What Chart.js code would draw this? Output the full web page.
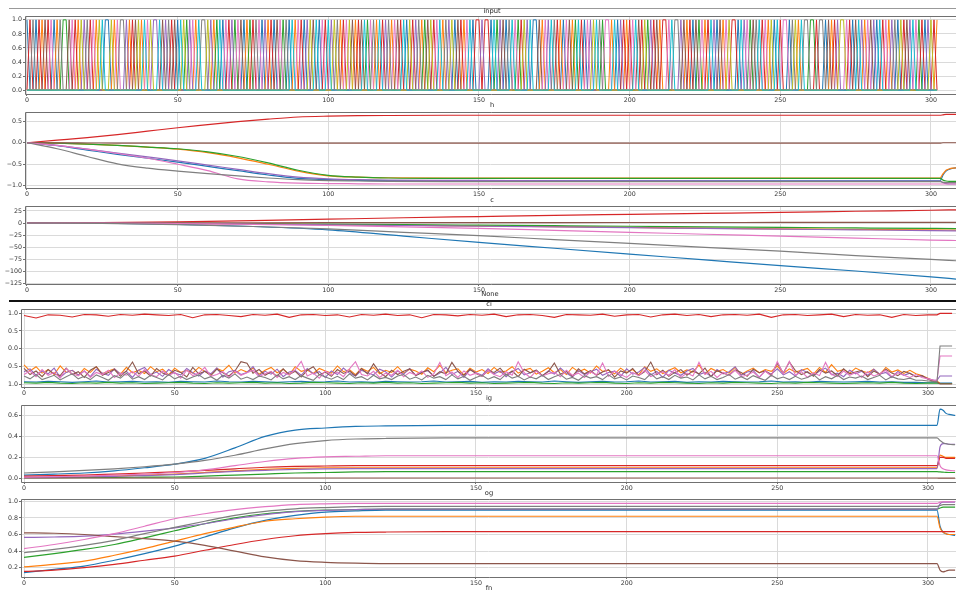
<!DOCTYPE html>
<html><head><meta charset="utf-8">
<script src="https://cdn.jsdelivr.net/npm/chart.js@4"></script>
<style>
html,body{margin:0;padding:0;background:#fff;width:956px;height:592px;overflow:hidden;position:relative;font-family:"DejaVu Sans",sans-serif}
canvas{position:absolute;left:0}
.rule{position:absolute;left:9px;right:0}
</style></head><body>
<div class="rule" style="top:8px;height:1px;background:#999"></div>
<div class="rule" style="top:300px;height:2px;background:#111"></div>
<script>
// ---------- tick labels ----------
const xTicks = [0, 50, 100, 150, 200, 250, 300];
const inputYTicks = [0, 0.2, 0.4, 0.6, 0.8, 1.0];
const hYTicks = [0.5, 0, -0.5, -1.0];
const cYTicks = [25, 0, -25, -50, -75, -100, -125];
const ciYTicks = [1.0, 0.5, 0, -0.5, -1.0];
const igYTicks = [0, 0.2, 0.4, 0.6];
const ogYTicks = [0.2, 0.4, 0.6, 0.8, 1.0];

// ---------- input: active symbol index at each step (0..302) ----------
const inputSeq = [
0,3,7,0,3,1,5,3,6,0,1,7,2,2,5,6,3,1,8,4,
7,3,6,1,8,9,0,0,8,1,6,7,7,4,1,3,5,8,1,9,
6,8,4,4,9,5,4,7,3,5,0,9,8,2,4,6,1,9,7,7,
8,4,1,2,9,0,6,3,4,2,6,5,0,1,2,3,7,6,0,4,
1,3,0,5,6,2,7,0,9,1,6,3,0,4,8,5,9,0,6,3,
9,4,8,7,1,3,6,8,5,1,3,5,9,2,6,7,1,9,3,4,
7,1,6,5,3,9,0,8,3,4,7,1,2,5,8,3,6,9,1,7,
4,8,0,5,3,1,6,9,0,3,3,4,3,3,0,9,2,4,5,0,
7,9,6,2,3,8,4,9,0,0,5,1,6,4,9,7,3,1,0,6,
5,1,2,9,3,0,6,4,8,9,7,2,6,6,1,9,0,4,3,1,
3,6,9,5,3,8,2,4,3,5,1,3,3,6,9,7,7,4,5,1,
3,0,5,2,6,1,3,9,4,0,5,1,6,8,3,3,0,9,4,6,
2,5,7,9,3,6,1,8,0,9,3,6,6,0,7,8,1,9,7,7,
2,2,3,7,7,0,5,1,3,4,8,8,6,3,0,5,9,4,1,6,
5,4,0,9,3,6,1,4,7,0,8,3,5,4,9,6,2,3,0,4,
8,3,1];
const inputCategories = [0,1,2,3,4,5,6,7,8,9];

// ---------- h ----------
const hX = [0,10,20,30,40,50,60,70,80,90,100,110,120,140,160,200,250,300,303,304,305,306,307,309];
const h_blue   = [0,-.07,-.17,-.27,-.36,-.45,-.55,-.65,-.75,-.83,-.86,-.875,-.88,-.885,-.885,-.885,-.885,-.885,-.885,-.75,-.66,-.62,-.6,-.58];
const h_orange = [0,-.01,-.03,-.06,-.1,-.15,-.23,-.35,-.5,-.66,-.77,-.8,-.815,-.82,-.82,-.82,-.82,-.82,-.82,-.72,-.64,-.61,-.59,-.58];
const h_green  = [0,-.01,-.03,-.06,-.1,-.14,-.21,-.32,-.47,-.64,-.76,-.8,-.82,-.83,-.83,-.83,-.83,-.83,-.83,-.87,-.89,-.9,-.9,-.9];
const h_red    = [0,.06,.12,.19,.27,.35,.42,.49,.55,.6,.62,.63,.635,.64,.64,.64,.64,.64,.64,.65,.66,.66,.66,.66];
const h_purple = [0,-.06,-.15,-.24,-.33,-.42,-.52,-.62,-.72,-.8,-.84,-.86,-.87,-.875,-.88,-.885,-.89,-.89,-.89,-.93,-.95,-.96,-.96,-.96];
const h_brown  = [0,-.003,-.005,-.007,-.008,-.01,-.01,-.01,-.01,-.01,-.01,-.01,-.01,-.01,-.01,-.01,-.01,-.01,-.01,0,0,0,0,0];
const h_pink   = [0,-.06,-.15,-.25,-.36,-.5,-.65,-.84,-.91,-.94,-.95,-.955,-.96,-.96,-.96,-.96,-.96,-.96,-.96,-.96,-.96,-.96,-.96,-.96];
const h_gray   = [0,-.14,-.32,-.49,-.59,-.66,-.72,-.77,-.82,-.86,-.88,-.89,-.9,-.905,-.905,-.905,-.905,-.905,-.905,-.92,-.93,-.93,-.93,-.93];

// ---------- c ----------
const cX = [0,25,50,75,100,125,150,175,200,225,250,275,300,309];
const c_blue   = [0,-0.3,-2.5,-7,-14,-27,-40,-52,-64,-76,-88,-99,-111,-116];
const c_orange = [0,0,-0.5,-1.5,-3,-4.5,-6,-7.5,-9,-10.5,-12,-13,-14,-14.5];
const c_green  = [0,0,-0.5,-1.2,-2.2,-3.2,-4.3,-5.4,-6.5,-7.8,-9,-10,-11,-11.3];
const c_red    = [0,0.8,2.5,5,8,11,13.5,16,18,20,22,24.5,26.5,27.5];
const c_purple = [0,0,-0.7,-2,-3.5,-5,-6.5,-8,-9.5,-11,-12.5,-14,-15.5,-16];
const c_brown  = [0,0.2,0.4,0.6,0.8,1,1,1.1,1.2,1.2,1.3,1.3,1.4,1.4];
const c_pink   = [0,0,-1,-2.5,-5,-8,-11,-15,-19,-23,-27,-31,-35,-36];
const c_gray   = [0,-0.5,-3,-7,-12,-19,-26,-34,-42,-50,-58,-67,-75,-78];

// ---------- ci (busy series every 2nd step, calm ones every 4th step) ----------
const ciTailX = [303,304,306,308];
const ci_orange = [
-0.45,-0.62,-0.5,-0.68,-0.58,-0.72,-0.48,-0.66,-0.6,-0.74,
-0.55,-0.66,-0.5,-0.7,-0.62,-0.56,-0.71,-0.52,-0.67,-0.6,
-0.69,-0.5,-0.64,-0.57,-0.73,-0.54,-0.66,-0.6,-0.68,-0.52,
-0.63,-0.72,-0.55,-0.62,-0.46,-0.68,-0.58,-0.65,-0.54,-0.71,
-0.6,-0.52,-0.67,-0.57,-0.73,-0.5,-0.63,-0.59,-0.69,-0.55,
-0.62,-0.68,-0.48,-0.64,-0.58,-0.72,-0.55,-0.63,-0.52,-0.7,
-0.6,-0.66,-0.5,-0.68,-0.57,-0.62,-0.71,-0.53,-0.64,-0.46,
-0.67,-0.6,-0.56,-0.73,-0.54,-0.65,-0.58,-0.69,-0.52,-0.66,
-0.62,-0.5,-0.68,-0.59,-0.55,-0.71,-0.63,-0.53,-0.67,-0.58,
-0.72,-0.52,-0.64,-0.57,-0.68,-0.48,-0.63,-0.6,-0.7,-0.54,
-0.66,-0.58,-0.73,-0.5,-0.63,-0.56,-0.69,-0.6,-0.53,-0.67,
-0.59,-0.65,-0.45,-0.7,-0.55,-0.63,-0.58,-0.68,-0.52,-0.72,
-0.62,-0.54,-0.67,-0.58,-0.63,-0.48,-0.69,-0.56,-0.65,-0.6,
-0.55,-0.71,-0.52,-0.66,-0.44,-0.63,-0.58,-0.68,-0.54,-0.62,
-0.67,-0.57,-0.72,-0.52,-0.65,-0.59,-0.69,-0.6,-0.7,-0.75,
-0.82,-0.9];
const ci_orange_tail = [-0.9,-0.97,-0.97,-0.97];
const ci_brown = [
-0.55,-0.72,-0.62,-0.78,-0.58,-0.7,-0.75,-0.54,-0.72,-0.64,
-0.8,-0.6,-0.5,-0.74,-0.66,-0.58,-0.77,-0.62,-0.37,-0.7,
-0.62,-0.76,-0.55,-0.68,-0.74,-0.6,-0.66,-0.79,-0.52,-0.7,
-0.63,-0.75,-0.57,-0.67,-0.76,-0.62,-0.36,-0.4,-0.68,-0.58,
-0.74,-0.64,-0.77,-0.56,-0.72,-0.63,-0.79,-0.6,-0.5,-0.73,
-0.65,-0.77,-0.58,-0.69,-0.62,-0.75,-0.55,-0.7,-0.42,-0.66,
-0.78,-0.6,-0.72,-0.63,-0.56,-0.75,-0.67,-0.59,-0.77,-0.64,
-0.7,-0.38,-0.63,-0.74,-0.58,-0.69,-0.77,-0.61,-0.66,-0.54,
-0.73,-0.62,-0.78,-0.57,-0.67,-0.6,-0.75,-0.64,-0.4,-0.71,
-0.63,-0.77,-0.56,-0.7,-0.61,-0.74,-0.65,-0.58,-0.79,-0.62,
-0.68,-0.55,-0.75,-0.64,-0.37,-0.72,-0.6,-0.77,-0.66,-0.58,
-0.74,-0.62,-0.7,-0.54,-0.78,-0.61,-0.68,-0.73,-0.59,-0.66,
-0.77,-0.57,-0.67,-0.62,-0.74,-0.4,-0.68,-0.37,-0.61,-0.72,
-0.64,-0.77,-0.58,-0.68,-0.62,-0.75,-0.56,-0.7,-0.65,-0.6,
-0.78,-0.62,-0.71,-0.57,-0.68,-0.75,-0.63,-0.69,-0.78,-0.75,
-0.85,-0.92];
const ci_brown_tail = [-0.92,-0.98,-0.98,-0.98];
const ci_purple = [
-0.64,-0.56,-0.74,-0.62,-0.7,-0.54,-0.8,-0.66,-0.6,-0.73,
-0.62,-0.78,-0.57,-0.68,-0.74,-0.56,-0.71,-0.63,-0.8,-0.6,
-0.52,-0.72,-0.65,-0.77,-0.58,-0.68,-0.73,-0.55,-0.67,-0.76,
-0.62,-0.7,-0.53,-0.79,-0.64,-0.6,-0.72,-0.66,-0.5,-0.75,
-0.63,-0.71,-0.57,-0.78,-0.65,-0.61,-0.74,-0.55,-0.7,-0.64,
-0.8,-0.62,-0.72,-0.54,-0.68,-0.76,-0.6,-0.67,-0.73,-0.57,
-0.64,-0.79,-0.62,-0.71,-0.55,-0.74,-0.65,-0.61,-0.77,-0.68,
-0.52,-0.72,-0.63,-0.8,-0.58,-0.67,-0.74,-0.56,-0.7,-0.62,
-0.78,-0.64,-0.55,-0.73,-0.67,-0.6,-0.76,-0.62,-0.71,-0.54,
-0.68,-0.79,-0.61,-0.72,-0.64,-0.57,-0.74,-0.66,-0.62,-0.77,
-0.56,-0.71,-0.65,-0.52,-0.73,-0.63,-0.8,-0.6,-0.68,-0.74,
-0.62,-0.55,-0.72,-0.66,-0.77,-0.58,-0.7,-0.64,-0.5,-0.74,
-0.65,-0.61,-0.79,-0.62,-0.71,-0.56,-0.73,-0.64,-0.76,-0.58,
-0.66,-0.74,-0.62,-0.54,-0.72,-0.68,-0.78,-0.6,-0.7,-0.63,
-0.74,-0.57,-0.71,-0.66,-0.8,-0.63,-0.74,-0.68,-0.78,-0.76,
-0.84,-0.88];
const ci_purple_tail = [-0.88,-0.76,-0.76,-0.76];
const ci_pink = [
-0.72,-0.62,-0.78,-0.58,-0.74,-0.66,-0.82,-0.55,-0.7,-0.76,
-0.62,-0.8,-0.66,-0.72,-0.6,-0.8,-0.68,-0.74,-0.64,-0.77,
-0.58,-0.72,-0.78,-0.62,-0.74,-0.66,-0.82,-0.6,-0.75,-0.68,
-0.52,-0.77,-0.72,-0.64,-0.8,-0.62,-0.74,-0.67,-0.6,-0.78,
-0.7,-0.63,-0.8,-0.66,-0.73,-0.58,-0.35,-0.76,-0.68,-0.82,
-0.62,-0.73,-0.65,-0.78,-0.56,-0.36,-0.72,-0.76,-0.63,-0.8,
-0.68,-0.74,-0.6,-0.78,-0.66,-0.73,-0.62,-0.8,-0.7,-0.38,
-0.75,-0.65,-0.8,-0.62,-0.74,-0.68,-0.77,-0.6,-0.72,-0.78,
-0.64,-0.74,-0.36,-0.67,-0.8,-0.62,-0.76,-0.7,-0.66,-0.78,
-0.6,-0.74,-0.68,-0.8,-0.64,-0.73,-0.4,-0.77,-0.62,-0.72,
-0.8,-0.66,-0.75,-0.6,-0.78,-0.7,-0.64,-0.74,-0.58,-0.8,
-0.68,-0.76,-0.38,-0.72,-0.63,-0.8,-0.66,-0.74,-0.6,-0.78,
-0.73,-0.65,-0.8,-0.62,-0.76,-0.36,-0.7,-0.35,-0.74,-0.64,
-0.8,-0.67,-0.75,-0.38,-0.72,-0.78,-0.62,-0.74,-0.66,-0.8,
-0.64,-0.76,-0.7,-0.6,-0.78,-0.67,-0.74,-0.8,-0.72,-0.8,
-0.84,-0.88];
const ci_pink_tail = [-0.88,-0.2,-0.2,-0.2];
const ci_gray = [
-0.76,-0.84,-0.72,-0.86,-0.8,-0.74,-0.87,-0.78,-0.7,-0.84,
-0.77,-0.86,-0.73,-0.8,-0.88,-0.75,-0.82,-0.68,-0.85,-0.78,
-0.86,-0.74,-0.8,-0.87,-0.72,-0.84,-0.77,-0.86,-0.79,-0.73,
-0.84,-0.78,-0.88,-0.74,-0.82,-0.7,-0.85,-0.79,-0.86,-0.76,
-0.8,-0.87,-0.73,-0.84,-0.78,-0.86,-0.75,-0.82,-0.88,-0.72,
-0.79,-0.85,-0.77,-0.86,-0.7,-0.82,-0.78,-0.87,-0.74,-0.84,
-0.8,-0.86,-0.76,-0.72,-0.85,-0.79,-0.87,-0.74,-0.82,-0.78,
-0.86,-0.73,-0.84,-0.77,-0.88,-0.8,-0.74,-0.85,-0.78,-0.86,
-0.71,-0.82,-0.77,-0.87,-0.79,-0.84,-0.74,-0.86,-0.78,-0.72,
-0.85,-0.8,-0.88,-0.75,-0.82,-0.78,-0.86,-0.73,-0.84,-0.79,
-0.87,-0.76,-0.8,-0.86,-0.7,-0.84,-0.78,-0.86,-0.74,-0.82,
-0.79,-0.87,-0.73,-0.84,-0.77,-0.86,-0.8,-0.72,-0.85,-0.78,
-0.86,-0.75,-0.82,-0.88,-0.74,-0.84,-0.79,-0.86,-0.77,-0.85,
-0.8,-0.72,-0.87,-0.78,-0.84,-0.74,-0.86,-0.79,-0.82,-0.76,
-0.86,-0.8,-0.74,-0.87,-0.78,-0.84,-0.86,-0.82,-0.88,-0.88,
-0.9,-0.92];
const ci_gray_tail = [-0.92,0.08,0.08,0.08];
const ci_red = [
0.93,0.86,0.95,0.94,0.89,0.96,0.95,0.91,0.96,0.94,
0.97,0.95,0.93,0.96,0.87,0.95,0.96,0.93,0.9,0.96,
0.94,0.97,0.88,0.95,0.96,0.93,0.95,0.89,0.96,0.94,
0.97,0.93,0.95,0.87,0.96,0.95,0.92,0.96,0.94,0.97,
0.9,0.95,0.96,0.93,0.88,0.96,0.95,0.94,0.97,0.91,
0.95,0.96,0.89,0.95,0.97,0.93,0.96,0.9,0.95,0.96,
0.94,0.97,0.88,0.95,0.96,0.93,0.95,0.97,0.9,0.96,
0.94,0.95,0.88,0.96,0.93,0.95];
const ci_red_tail = [0.95,0.99,0.99,0.99];
const ci_green = [
-0.95,-0.96,-0.94,-0.96,-0.97,-0.95,-0.96,-0.94,-0.96,-0.95,
-0.97,-0.96,-0.95,-0.94,-0.96,-0.97,-0.95,-0.96,-0.95,-0.94,
-0.96,-0.95,-0.97,-0.96,-0.94,-0.95,-0.96,-0.97,-0.95,-0.96,
-0.94,-0.96,-0.95,-0.97,-0.96,-0.95,-0.94,-0.96,-0.95,-0.97,
-0.96,-0.95,-0.94,-0.96,-0.97,-0.95,-0.96,-0.95,-0.94,-0.96,
-0.97,-0.95,-0.96,-0.94,-0.95,-0.96,-0.97,-0.95,-0.96,-0.94,
-0.95,-0.96,-0.97,-0.95,-0.96,-0.94,-0.95,-0.96,-0.97,-0.96,
-0.95,-0.96,-0.94,-0.96,-0.97,-0.96];
const ci_green_tail = [-0.96,-0.97,-0.97,-0.97];
const ci_blue = [
-0.92,-0.93,-0.91,-0.92,-0.94,-0.92,-0.9,-0.93,-0.92,-0.91,
-0.93,-0.92,-0.94,-0.91,-0.92,-0.93,-0.9,-0.92,-0.93,-0.91,
-0.92,-0.94,-0.92,-0.91,-0.93,-0.92,-0.9,-0.93,-0.92,-0.94,
-0.91,-0.92,-0.93,-0.92,-0.9,-0.93,-0.92,-0.91,-0.94,-0.92,
-0.93,-0.91,-0.92,-0.93,-0.9,-0.92,-0.94,-0.92,-0.91,-0.93,
-0.92,-0.9,-0.93,-0.92,-0.91,-0.94,-0.92,-0.93,-0.91,-0.92,
-0.93,-0.92,-0.9,-0.93,-0.92,-0.94,-0.91,-0.92,-0.93,-0.92,
-0.91,-0.93,-0.92,-0.94,-0.94,-0.95];
const ci_blue_tail = [-0.95,-0.96,-0.96,-0.96];

// ---------- ig ----------
const gX = [0,10,20,30,40,50,60,70,80,90,100,110,120,140,160,200,250,300,303,304,305,306,307,309];
const ig_blue   = [.03,.04,.05,.07,.1,.135,.19,.29,.4,.46,.48,.495,.5,.505,.505,.505,.505,.505,.505,.66,.65,.62,.61,.6];
const ig_orange = [.01,.012,.015,.02,.03,.04,.055,.07,.085,.095,.1,.1,.1,.1,.1,.1,.1,.1,.1,.22,.21,.2,.2,.2];
const ig_green  = [.005,.006,.007,.008,.01,.012,.02,.03,.04,.05,.055,.06,.063,.063,.063,.063,.063,.063,.063,.06,.058,.056,.055,.055];
const ig_red    = [.02,.025,.03,.04,.05,.06,.075,.09,.105,.113,.117,.12,.12,.12,.12,.12,.12,.12,.12,.2,.2,.19,.19,.19];
const ig_purple = [.005,.008,.012,.018,.025,.035,.05,.065,.075,.085,.09,.092,.092,.092,.092,.092,.092,.092,.092,.3,.33,.33,.325,.325];
const ig_brown  = [.002,.002,.002,.002,.002,.002,.002,.002,.002,.002,.002,.002,.002,.002,.002,.002,.002,.002,.002,.001,.001,.001,.001,.001];
const ig_pink   = [.01,.015,.02,.03,.04,.055,.08,.12,.16,.19,.205,.21,.215,.215,.215,.215,.215,.215,.215,.12,.09,.08,.075,.07];
const ig_gray   = [.05,.06,.075,.09,.11,.135,.17,.22,.28,.33,.36,.375,.38,.385,.385,.385,.385,.385,.385,.36,.34,.33,.325,.32];

// ---------- og ----------
const og_blue   = [.14,.18,.22,.29,.37,.46,.57,.68,.77,.83,.87,.885,.895,.895,.895,.895,.895,.895,.895,.7,.63,.61,.6,.59];
const og_orange = [.21,.24,.28,.35,.43,.52,.61,.69,.76,.79,.81,.82,.82,.82,.82,.82,.82,.82,.82,.68,.63,.61,.6,.6];
const og_green  = [.325,.37,.42,.48,.56,.645,.73,.8,.85,.88,.895,.9,.905,.905,.905,.905,.905,.905,.905,.92,.93,.93,.93,.93];
const og_red    = [.155,.17,.2,.24,.29,.34,.41,.48,.54,.585,.61,.625,.63,.635,.635,.635,.635,.635,.635,.635,.635,.635,.635,.635];
const og_purple = [.565,.57,.58,.605,.64,.68,.73,.79,.84,.875,.89,.9,.905,.905,.905,.905,.905,.905,.905,.97,.99,.99,.99,.99];
const og_brown  = [.62,.615,.6,.575,.55,.52,.47,.4,.33,.285,.265,.255,.25,.25,.25,.25,.25,.25,.25,.17,.15,.16,.17,.17];
const og_pink   = [.43,.48,.54,.61,.7,.79,.85,.9,.935,.96,.97,.975,.975,.975,.975,.975,.975,.975,.975,.99,.995,.995,.995,.995];
const og_gray   = [.38,.42,.47,.53,.61,.685,.76,.83,.88,.91,.925,.935,.94,.94,.94,.94,.94,.94,.94,.95,.96,.96,.96,.96];

// ---------- rendering ----------
const TAB10 = ['#1f77b4','#ff7f0e','#2ca02c','#d62728','#9467bd','#8c564b','#e377c2','#7f7f7f','#bcbd22','#17becf'];
const FONT = '"DejaVu Sans", sans-serif';
Chart.defaults.font.family = FONT;

function pts(xs, ys){ return ys.map((y,i)=>({x:xs[i], y})); }
function range(a,b,s){ const r=[]; for(let v=a; v<=b; v+=s) r.push(v); return r; }
function fmtDec(v){ const s=Math.abs(v).toFixed(1); return v<0 ? '\u2212'+s : s; }
function fmtInt(v){ return v<0 ? '\u2212'+Math.abs(v) : String(v); }
function fmtAbs(v){ return Math.abs(v).toFixed(1); }

function panel(box, xr, yr, yTicks, yFmt, datasets, titles){
  const xH = 13;
  let cTop = box.top - 4, cBot = box.bottom + xH;
  titles.forEach(t=>{ cTop = Math.min(cTop, Math.floor(t.y - 7)); cBot = Math.max(cBot, Math.ceil(t.y + 7)); });
  const padTop = box.top - cTop, padBottom = cBot - (box.bottom + xH);
  const cv = document.createElement('canvas');
  cv.width = 956; cv.height = cBot - cTop;
  cv.style.top = cTop + 'px';
  document.body.appendChild(cv);
  datasets.forEach((d,i)=>{ d.order = datasets.length - i; });
  const deco = {id:'deco',
    afterDatasetsDraw(c){
      const {ctx, chartArea:a} = c;
      const l = Math.round(a.left)+0.5, t = Math.round(a.top)+0.5, b = Math.round(a.bottom)+0.5;
      ctx.save(); ctx.strokeStyle='#707070'; ctx.lineWidth=1;
      ctx.beginPath(); ctx.moveTo(960,t); ctx.lineTo(l,t); ctx.lineTo(l,b); ctx.lineTo(960,b); ctx.stroke();
      ctx.restore();
    },
    afterDraw(c){
      const ctx = c.ctx;
      ctx.save(); ctx.fillStyle='#262626'; ctx.font='6.7px '+FONT; ctx.textAlign='center'; ctx.textBaseline='middle';
      titles.forEach(t=>ctx.fillText(t.text, t.x, t.y - cTop));
      ctx.restore();
    }};
  new Chart(cv, {type:'line', data:{datasets}, options:{
    responsive:false, animation:false, events:[],
    layout:{padding:{top:padTop,left:0,right:0,bottom:padBottom}},
    plugins:{legend:{display:false}, tooltip:{enabled:false}, title:{display:false}},
    scales:{
      x:{type:'linear', min:xr[0], max:xr[1],
        afterFit:s=>{s.height=xH;},
        afterBuildTicks:s=>{s.ticks = xTicks.map(v=>({value:v}));},
        grid:{color:'#dadada', lineWidth:1, tickLength:2, tickColor:'#707070'},
        border:{display:false},
        ticks:{font:{size:6.3}, color:'#333', padding:1, maxRotation:0, autoSkip:false, callback:v=>String(v)}},
      y:{type:'linear', min:yr[0], max:yr[1],
        afterFit:s=>{s.width=box.left;},
        afterBuildTicks:s=>{s.ticks = yTicks.map(v=>({value:v}));},
        grid:{color:'#dadada', lineWidth:1, tickLength:2, tickColor:'#707070'},
        border:{display:false},
        ticks:{font:{size:6.3}, color:'#333', padding:1, autoSkip:false, callback:v=>yFmt(v)}}
    }}, plugins:[deco]});
}

function line(xs, ys, color, smooth, w){
  return {data:pts(xs,ys), borderColor:color, borderWidth:w||1.2, pointRadius:0, fill:false,
    tension: smooth ? 0.4 : 0, cubicInterpolationMode: smooth ? 'monotone' : 'default'};
}

const upperX = [-0.66, 308.3];
const lowerX = [-1.0, 309.3];

// input
const steps = inputSeq.map((_,i)=>i);
panel({left:25, top:16, bottom:94}, upperX, [-0.055,1.055], inputYTicks, fmtDec,
  inputCategories.map(k => line(steps, inputSeq.map(c => c===k ? 1 : 0), TAB10[k], false, 1)),
  [{text:'input', x:492, y:11}]);

// h
panel({left:25, top:112, bottom:188}, upperX, [-1.053,0.716], hYTicks, fmtDec,
  [h_blue,h_orange,h_green,h_red,h_purple,h_brown,h_pink,h_gray].map((s,i)=>line(hX,s,TAB10[i],true)),
  [{text:'h', x:492, y:105.5}]);

// c
panel({left:25, top:206, bottom:284}, upperX, [-125.8,35.3], cYTicks, fmtInt,
  [c_blue,c_orange,c_green,c_red,c_purple,c_brown,c_pink,c_gray].map((s,i)=>line(cX,s,TAB10[i],true)),
  [{text:'c', x:492, y:200}]);

// ci
const ciFineX = range(0,302,2), ciCoarseX = range(0,300,4);
const ciSets = [
  [ciCoarseX, ci_blue, ci_blue_tail],
  [ciFineX, ci_orange, ci_orange_tail],
  [ciCoarseX, ci_green, ci_green_tail],
  [ciCoarseX, ci_red, ci_red_tail],
  [ciFineX, ci_purple, ci_purple_tail],
  [ciFineX, ci_brown, ci_brown_tail],
  [ciFineX, ci_pink, ci_pink_tail],
  [ciFineX, ci_gray, ci_gray_tail]];
panel({left:21, top:309, bottom:387}, lowerX, [-1.068,1.113], ciYTicks, fmtAbs,
  ciSets.map(([xs,ys,tail],i)=>line(xs.concat(ciTailX), ys.concat(tail), TAB10[i], false, 1.1)),
  [{text:'None', x:490, y:294.5}, {text:'ci', x:489, y:304}]);

// ig
panel({left:21, top:405, bottom:482}, lowerX, [-0.036,0.70], igYTicks, fmtDec,
  [ig_blue,ig_orange,ig_green,ig_red,ig_purple,ig_brown,ig_pink,ig_gray].map((s,i)=>line(gX,s,TAB10[i],true)),
  [{text:'ig', x:489, y:398.5}]);

// og
panel({left:21, top:499, bottom:577}, lowerX, [0.088,1.028], ogYTicks, fmtDec,
  [og_blue,og_orange,og_green,og_red,og_purple,og_brown,og_pink,og_gray].map((s,i)=>line(gX,s,TAB10[i],true)),
  [{text:'og', x:489, y:493.5}, {text:'fn', x:489, y:588.5}]);
</script>
</body></html>
